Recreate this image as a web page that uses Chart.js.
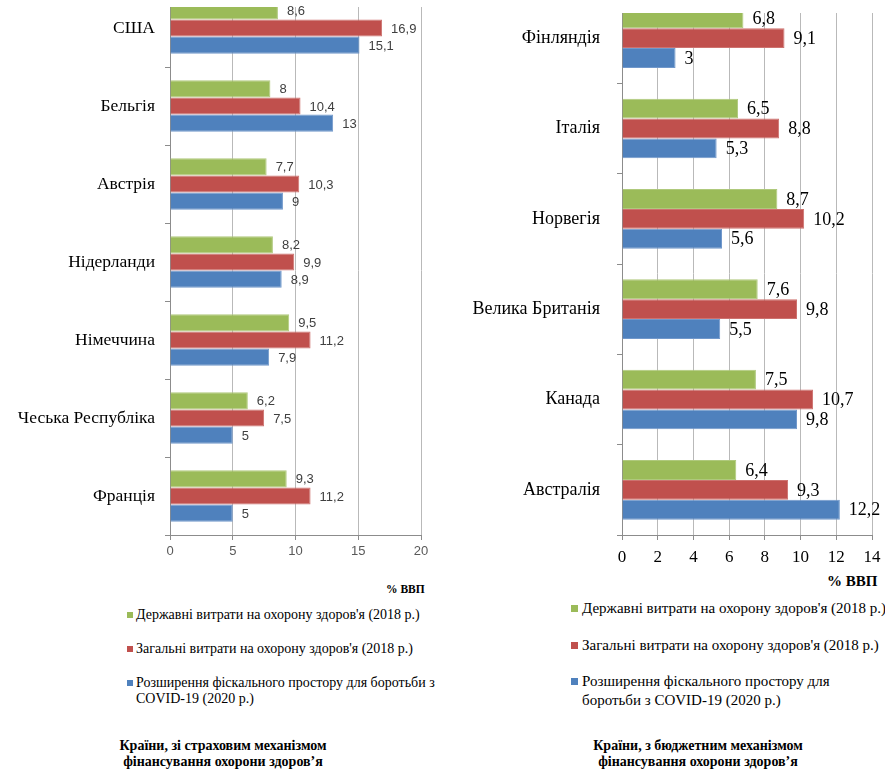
<!DOCTYPE html>
<html lang="uk">
<head>
<meta charset="utf-8">
<title>Витрати на охорону здоров'я, % ВВП</title>
<script src="https://cdn.jsdelivr.net/npm/chart.js@4.4.1/dist/chart.umd.min.js"></script>
<style>
	html, body {
		margin: 0;
		padding: 0;
		background: #fff;
	}
	body {
		position: relative;
		width: 885px;
		height: 771px;
		overflow: hidden;
		font-family: 'Liberation Serif', 'Times New Roman', serif;
		color: #000;
	}
	canvas {
		position: absolute;
	}
	.ha-unit {
		position: absolute;
		font-weight: bold;
		white-space: nowrap;
	}
	.ha-legend-item {
		position: absolute;
		white-space: pre;
	}
	.ha-legend-item i {
		position: absolute;
		left: 0;
	}
	.ha-caption {
		position: absolute;
		width: 300px;
		font-size: 14px;
		line-height: 16px;
		font-weight: bold;
		text-align: center;
	}
</style>
</head>
<body>

<canvas id="ha-insurance-chart" width="440" height="582" style="left:0; top:-11px;"></canvas>
<canvas id="ha-budget-chart" width="445" height="578" style="left:440px; top:-7px;"></canvas>

<div class="ha-unit" style="left:386px; top:583px; font-size:11.5px;">% ВВП</div>
<div class="ha-unit" style="left:827px; top:573px; font-size:15px;">% ВВП</div>

<div id="ha-insurance-legend"></div>
<div id="ha-budget-legend"></div>

<div class="ha-caption" style="left:73px; top:738px;">Країни, зі страховим механізмом<br>фінансування охорони здоров’я</div>
<div class="ha-caption" style="left:548px; top:738px;">Країни, з бюджетним механізмом<br>фінансування охорони здоров’я</div>

<script>
	// Countries with an insurance model of health financing
	var insuranceCountries = ['США', 'Бельгія', 'Австрія', 'Нідерланди', 'Німеччина', 'Чеська Республіка', 'Франція'];
	var insurancePublic = [8.6, 8, 7.7, 8.2, 9.5, 6.2, 9.3];
	var insuranceTotal = [16.9, 10.4, 10.3, 9.9, 11.2, 7.5, 11.2];
	var insuranceCovid = [15.1, 13, 9, 8.9, 7.9, 5, 5];
	var insuranceTicks = [0, 5, 10, 15, 20];

	// Countries with a budget model of health financing
	var budgetCountries = ['Фінляндія', 'Італія', 'Норвегія', 'Велика Британія', 'Канада', 'Австралія'];
	var budgetPublic = [6.8, 6.5, 8.7, 7.6, 7.5, 6.4];
	var budgetTotal = [9.1, 8.8, 10.2, 9.8, 10.7, 9.3];
	var budgetCovid = [3, 5.3, 5.6, 5.5, 9.8, 12.2];
	var budgetTicks = [0, 2, 4, 6, 8, 10, 12, 14];

	// Series names (the line breaks follow the legends of the original)
	var insuranceSeriesNames = [
		"Державні витрати на охорону здоров'я (2018 р.)",
		"Загальні витрати на охорону здоров'я (2018 р.)",
		"Розширення фіскального простору для боротьби з\nCOVID-19 (2020 р.)"
	];
	var budgetSeriesNames = [
		"Державні витрати на охорону здоров'я (2018 р.)",
		"Загальні витрати на охорону здоров'я (2018 р.)",
		"Розширення фіскального простору для\nборотьби з COVID-19 (2020 р.)"
	];

	(function () {
		'use strict';

		var SERIES_COLORS = ['#9bbb59', '#c0504d', '#4f81bd'];
		var SERIES_EDGES = ['#afc97c', '#cd726f', '#7198cb'];
		var SERIF = '"Liberation Serif", "Times New Roman", serif';
		var SANS = '"Liberation Sans", Arial, sans-serif';

		/**
		 * Number with a decimal comma
		 */
		function formatValue(value) {
			return String(value).replace('.', ',');
		}

		/**
		 * The source picture is cut off at the top: hide the grid and bars above that line
		 */
		var topClipPlugin = {
			id: 'haTopClip',
			beforeDraw: function (chart, args, opts) {
				var ctx = chart.ctx;
				ctx.save();
				ctx.beginPath();
				ctx.rect(0, opts.top, chart.width, chart.height - opts.top);
				ctx.clip();
			},
			afterDatasetsDraw: function (chart) {
				chart.ctx.restore();
			}
		};

		/**
		 * Draws the value at the end of every bar
		 */
		var valueLabelsPlugin = {
			id: 'haValueLabels',
			afterDatasetsDraw: function (chart, args, opts) {
				var ctx = chart.ctx;
				ctx.save();
				ctx.font = opts.font;
				ctx.fillStyle = opts.color;
				ctx.textAlign = 'left';
				ctx.textBaseline = 'middle';
				chart.data.datasets.forEach(function (dataset, i) {
					chart.getDatasetMeta(i).data.forEach(function (bar, j) {
						ctx.fillText(formatValue(dataset.data[j]), bar.x + opts.offset, bar.y + 1);
					});
				});
				ctx.restore();
			}
		};

		var HAHealthCharts = {
			/**
			 * Initialize
			 */
			init: function () {
				this.renderChart({
					canvas: 'ha-insurance-chart',
					labels: insuranceCountries,
					series: [insurancePublic, insuranceTotal, insuranceCovid],
					names: insuranceSeriesNames,
					ticks: insuranceTicks,
					clipTop: 18,
					axisWidth: 170,
					paddingRight: 19,
					categoryFont: { family: SERIF, size: 17.5 },
					categoryPadding: 10,
					tickFont: { family: SANS, size: 13 },
					tickColor: '#595959',
					tickPadding: 4,
					valueFont: '13px ' + SANS,
					valueColor: '#404040'
				});

				this.renderChart({
					canvas: 'ha-budget-chart',
					labels: budgetCountries,
					series: [budgetPublic, budgetTotal, budgetCovid],
					names: budgetSeriesNames,
					ticks: budgetTicks,
					clipTop: 20,
					axisWidth: 182,
					paddingRight: 13,
					categoryFont: { family: SERIF, size: 18 },
					categoryPadding: 17,
					tickFont: { family: SERIF, size: 17 },
					tickColor: '#000',
					tickPadding: 7,
					valueFont: '18px ' + SERIF,
					valueColor: '#000'
				});

				this.renderLegend('ha-insurance-legend', insuranceSeriesNames, {
					left: 127, top: 607, step: 34, size: 6, fontSize: 14, lineHeight: 16, gap: 9
				});
				this.renderLegend('ha-budget-legend', budgetSeriesNames, {
					left: 571, top: 599, step: 36.5, size: 7, fontSize: 15, lineHeight: 19, gap: 11
				});
			},

			/**
			 * Render one horizontal bar chart
			 */
			renderChart: function (cfg) {
				var ctx = document.getElementById(cfg.canvas);
				if (!ctx) {
					return;
				}

				var datasets = cfg.series.map(function (values, i) {
					return {
						label: cfg.names[i].replace('\n', ' '),
						data: values,
						backgroundColor: SERIES_COLORS[i],
						borderColor: SERIES_EDGES[i],
						borderWidth: 1,
						barPercentage: 1,
						categoryPercentage: 0.66
					};
				});

				new Chart(ctx, {
					type: 'bar',
					data: {
						labels: cfg.labels,
						datasets: datasets
					},
					options: {
						indexAxis: 'y',
						responsive: false,
						animation: false,
						events: [],
						layout: {
							padding: { top: 0, right: cfg.paddingRight, bottom: 0, left: 0 }
						},
						plugins: {
							legend: { display: false },
							tooltip: { enabled: false },
							haTopClip: { top: cfg.clipTop },
							haValueLabels: {
								font: cfg.valueFont,
								color: cfg.valueColor,
								offset: 9
							}
						},
						scales: {
							x: {
								min: cfg.ticks[0],
								max: cfg.ticks[cfg.ticks.length - 1],
								ticks: {
									stepSize: cfg.ticks[1] - cfg.ticks[0],
									font: cfg.tickFont,
									color: cfg.tickColor,
									padding: cfg.tickPadding,
									maxRotation: 0
								},
								grid: {
									color: '#b9b9b9',
									tickColor: '#8c8c8c',
									tickLength: 5
								},
								border: { color: '#8c8c8c' },
								afterFit: function (scale) {
									scale.height = 36;
									scale.paddingRight = 0;
								}
							},
							y: {
								ticks: {
									font: cfg.categoryFont,
									color: '#000',
									padding: cfg.categoryPadding
								},
								grid: {
									offset: true,
									drawOnChartArea: false,
									tickColor: '#8c8c8c',
									tickLength: 5
								},
								border: { color: '#8c8c8c' },
								afterFit: function (scale) {
									scale.width = cfg.axisWidth;
									scale.paddingTop = 0;
									scale.paddingBottom = 0;
								}
							}
						}
					},
					plugins: [topClipPlugin, valueLabelsPlugin]
				});
			},

			/**
			 * Render a legend below the chart
			 */
			renderLegend: function (id, names, pos) {
				var box = document.getElementById(id);
				if (!box) {
					return;
				}

				names.forEach(function (name, i) {
					var item = document.createElement('div');
					item.className = 'ha-legend-item';
					item.style.left = pos.left + 'px';
					item.style.top = (pos.top + i * pos.step) + 'px';
					item.style.fontSize = pos.fontSize + 'px';
					item.style.lineHeight = pos.lineHeight + 'px';
					item.style.paddingLeft = pos.gap + 'px';

					var mark = document.createElement('i');
					mark.style.width = pos.size + 'px';
					mark.style.height = pos.size + 'px';
					mark.style.top = ((pos.lineHeight - pos.size) / 2) + 'px';
					mark.style.background = SERIES_COLORS[i];

					item.appendChild(mark);
					item.appendChild(document.createTextNode(name));
					box.appendChild(item);
				});
			}
		};

		HAHealthCharts.init();
	})();
</script>
</body>
</html>
